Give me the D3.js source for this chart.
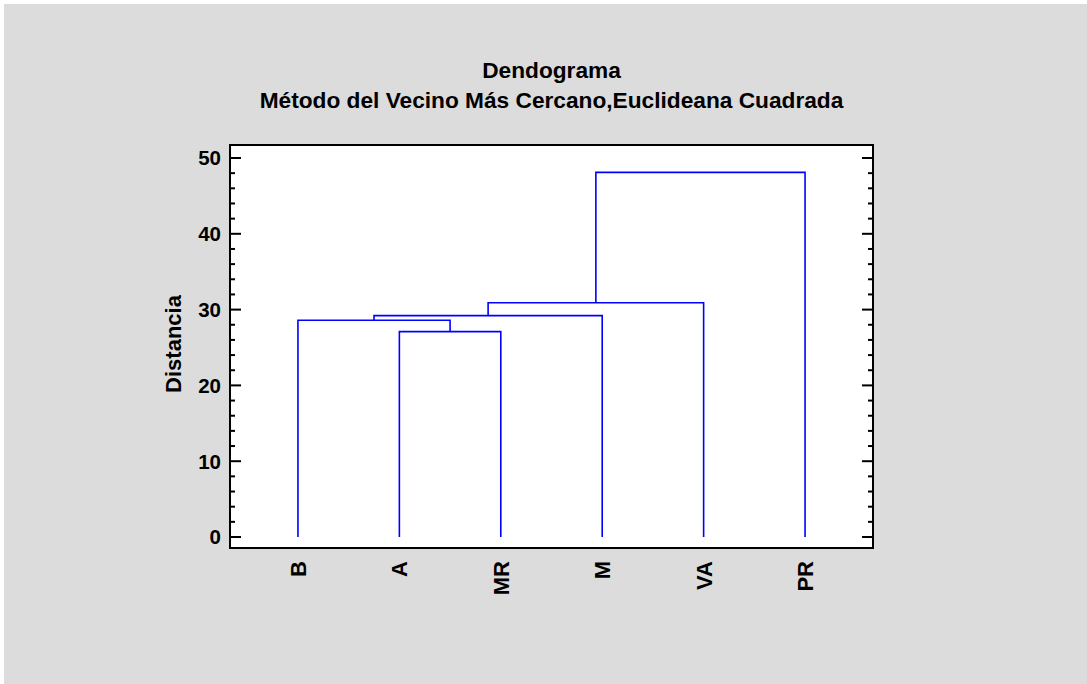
<!DOCTYPE html>
<html>
<head>
<meta charset="utf-8">
<script src="https://cdn.jsdelivr.net/npm/d3@7"></script>
<style>
  body { margin: 0; background: #fff; }
  text { font-family: "Liberation Sans", Arial, sans-serif; font-weight: bold; fill: #000; }
</style>
</head>
<body>
<div id="chart"></div>
<script>
const leaves = ["B", "A", "MR", "M", "VA", "PR"];
// each merge joins two earlier nodes (leaf names or merge indices) at a distance
const mergeLeft = ["A", 0, 1, 2, 3];
const mergeRight = ["MR", "B", "M", "VA", "PR"];
const mergeHeight = [27.1, 28.6, 29.2, 30.9, 48.1];
const yTicks = [0, 10, 20, 30, 40, 50];
const titleLines = ["Dendograma", "Método del Vecino Más Cercano,Euclideana Cuadrada"];

const width = 1087, height = 684;
const frame = { left: 230, right: 873, top: 145, bottom: 548 };

const svg = d3.select("#chart").append("svg")
  .attr("width", width)
  .attr("height", height);

svg.append("rect").attr("width", width).attr("height", height).attr("fill", "#fff");
svg.append("rect").attr("x", 4).attr("y", 4)
  .attr("width", width - 4).attr("height", height - 4)
  .attr("fill", "#dcdcdc");

svg.append("rect")
  .attr("x", frame.left).attr("y", frame.top)
  .attr("width", frame.right - frame.left)
  .attr("height", frame.bottom - frame.top)
  .attr("fill", "#fff");

const xScale = d3.scalePoint()
  .domain(leaves)
  .range([frame.left, frame.right])
  .padding(0.67);

const yScale = d3.scaleLinear()
  .domain([0, 50])
  .range([537, 158]);

// titles
svg.selectAll("text.title")
  .data(titleLines)
  .join("text")
  .attr("class", "title")
  .attr("x", (frame.left + frame.right) / 2)
  .attr("y", (d, i) => 78 + i * 30)
  .attr("text-anchor", "middle")
  .style("font-size", "22.7px")
  .text(d => d);

// dendrogram links
const nodes = [];
const pos = name => typeof name === "number" ? nodes[name] : { x: xScale(name), y: 0 };
const links = [];
mergeHeight.forEach((h, i) => {
  const a = pos(mergeLeft[i]), b = pos(mergeRight[i]);
  links.push([[a.x, a.y], [a.x, h], [b.x, h], [b.x, b.y]]);
  nodes.push({ x: (a.x + b.x) / 2, y: h });
});

const line = d3.line()
  .x(d => d[0])
  .y(d => yScale(d[1]));

svg.append("g")
  .selectAll("path")
  .data(links)
  .join("path")
  .attr("d", line)
  .attr("fill", "none")
  .attr("stroke", "#0000ff")
  .attr("stroke-width", 1.6);

// ticks, inside on both sides
const minorTicks = d3.range(0, 51, 2);
const tickG = svg.append("g").attr("stroke", "#000").attr("stroke-width", 2);
minorTicks.forEach(v => {
  const len = v % 10 === 0 ? 11 : 5;
  tickG.append("line")
    .attr("x1", frame.left).attr("x2", frame.left + len)
    .attr("y1", yScale(v)).attr("y2", yScale(v));
  tickG.append("line")
    .attr("x1", frame.right).attr("x2", frame.right - len)
    .attr("y1", yScale(v)).attr("y2", yScale(v));
});

svg.selectAll("text.ytick")
  .data(yTicks)
  .join("text")
  .attr("class", "ytick")
  .attr("x", 221)
  .attr("y", d => yScale(d))
  .attr("dy", "0.36em")
  .attr("text-anchor", "end")
  .style("font-size", "20.5px")
  .text(d => d);

svg.append("text")
  .attr("transform", "translate(181,344) rotate(-90)")
  .attr("text-anchor", "middle")
  .style("font-size", "22px")
  .text("Distancia");

svg.selectAll("text.xlab")
  .data(leaves)
  .join("text")
  .attr("class", "xlab")
  .attr("transform", d => `translate(${xScale(d) + 8},561) rotate(-90)`)
  .attr("text-anchor", "end")
  .style("font-size", "22px")
  .text(d => d);

// frame
svg.append("rect")
  .attr("x", frame.left).attr("y", frame.top)
  .attr("width", frame.right - frame.left)
  .attr("height", frame.bottom - frame.top)
  .attr("fill", "none")
  .attr("stroke", "#000")
  .attr("stroke-width", 2);
</script>
</body>
</html>
